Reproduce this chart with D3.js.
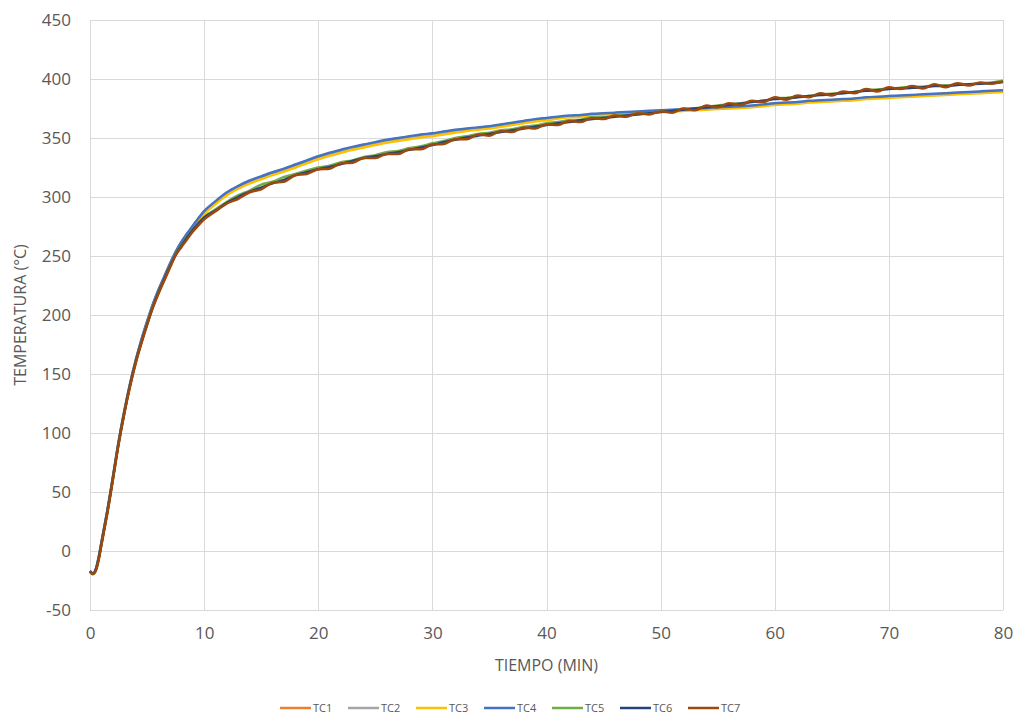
<!DOCTYPE html>
<html>
<head>
<meta charset="utf-8">
<script src="https://cdn.jsdelivr.net/npm/d3@7"></script>
<style>
  html, body { margin: 0; padding: 0; background: #fff; }
  #chart { width: 1016px; height: 717px; }
  .tick text { fill: #595959; font-family: "Open Sans", "Liberation Sans", sans-serif; font-size: 17px; }
  .axis-title { fill: #595959; font-family: "Open Sans", "Liberation Sans", sans-serif; font-size: 16px; }
  .legend text { fill: #595959; font-family: "Open Sans", "Liberation Sans", sans-serif; font-size: 11px; }
</style>
</head>
<body>
<div id="chart"></div>
<script>
// time in minutes (shared by every series)
const minutes = [0, 0.25, 0.5, 0.75, 1, 1.25, 1.5, 2, 2.5, 3, 3.5, 4, 4.5, 5, 5.5, 6, 6.5, 7, 7.5, 8, 8.5, 9, 9.5, 10,
  11, 12, 13, 14, 15, 16, 17, 18, 19, 20, 21, 22, 23, 24, 25, 26, 27, 28, 29, 30,
  31, 32, 33, 34, 35, 36, 37, 38, 39, 40, 41, 42, 43, 44, 45, 46, 47, 48, 49, 50,
  51, 52, 53, 54, 55, 56, 57, 58, 59, 60, 61, 62, 63, 64, 65, 66, 67, 68, 69, 70,
  71, 72, 73, 74, 75, 76, 77, 78, 79, 80];

const seriesNames = ['TC1', 'TC2', 'TC3', 'TC4', 'TC5', 'TC6', 'TC7'];
const seriesColors = ['#ED7D31', '#A5A5A5', '#FFC000', '#4472C4', '#70AD47', '#264478', '#9E480E'];

const tc1 = [-17.5, -19.5, -16, -6, 7, 20, 33, 62, 92, 118, 141, 161, 178.5, 194, 208.5, 221, 232, 243, 253, 261.5, 268.5, 275, 281.5, 287.5,
  296, 303.5, 309, 313.5, 317, 320.5, 323.5, 327, 330.5, 334, 337, 339.5, 342, 344, 346, 348, 349.5, 351, 352.5, 353.5,
  355, 356.5, 357.5, 358.5, 359.5, 361, 362.5, 364, 365.5, 366.5, 367.5, 368.5, 369, 370, 370.5, 371, 371.5, 372, 372.5, 373,
  373.5, 374, 374.5, 375, 375.5, 376, 376.5, 377, 378, 379, 379.5, 380, 381, 381.5, 382, 382.5, 383, 384, 384.5, 385,
  385.5, 386, 386.5, 387, 387.5, 388, 388.5, 389, 389.5, 390];
const tc2 = [-17.5, -19.5, -16, -6.5, 6.5, 19.5, 32.5, 61.5, 91.5, 117.5, 140.5, 160.5, 178, 193.5, 208, 220.5, 231.5, 242.5, 252.5, 261, 268, 274.5, 281, 287,
  295.5, 303, 308.5, 313, 316.5, 320, 323, 326.5, 330, 333.5, 336.5, 339, 341.5, 343.5, 345.5, 347.5, 349, 350.5, 352, 353,
  354.5, 356, 357, 358, 359, 360.5, 362, 363.5, 365, 366, 367, 368, 368.5, 369.5, 370, 370.5, 371, 371.5, 372, 372.5,
  373, 373.5, 374, 374.5, 375, 375.5, 376, 376.5, 377.5, 378.5, 379, 379.5, 380.5, 381, 381.5, 382, 382.5, 383.5, 384, 384.5,
  385, 385.5, 386, 386.5, 387, 387.5, 388, 388.5, 389, 389.5];
const tc3 = [-17.5, -19.5, -16, -6.5, 6.5, 19.5, 32.5, 61.5, 91.5, 117.5, 140.5, 160.5, 177.5, 193, 207.5, 220, 231, 242, 252, 260.5, 267.5, 273.5, 279.5, 285.5,
  294, 301.5, 307, 311.5, 315, 318.5, 321.5, 325, 328.5, 332, 335, 337.5, 340, 342, 344, 346, 347.5, 349, 350.5, 351.5,
  353, 354.5, 356, 357, 358, 359.5, 361, 362.5, 364, 365, 366.5, 367.5, 368, 369, 369.5, 370, 370.5, 371, 371.5, 372,
  372.5, 373, 373.5, 374, 374.5, 375, 375.5, 376, 377, 378, 378.5, 379, 380, 380.5, 381, 381.5, 382, 383, 383.5, 384,
  384.5, 385, 385.5, 386, 386.5, 387, 387.5, 388, 388.5, 389];
const tc4 = [-17, -19, -15.5, -5.5, 7.5, 20.5, 33.5, 62.5, 92.5, 118.5, 141.5, 161.5, 179, 194.5, 209, 221.5, 232.5, 243.5, 253.5, 262, 269, 275.5, 282, 288,
  296.5, 304, 309.5, 314, 317.5, 321, 324, 327.5, 331, 334.5, 337.5, 340, 342.5, 344.5, 346.5, 348.5, 350, 351.5, 353, 354,
  355.5, 357, 358, 359, 360, 361.5, 363, 364.5, 366, 367, 368, 369, 369.5, 370.5, 371, 371.5, 372, 372.5, 373, 373.5,
  374, 374.5, 375, 375.5, 376, 376.5, 377, 377.5, 378.5, 379.5, 380, 380.5, 381.5, 382, 382.5, 383, 383.5, 384.5, 385, 385.5,
  386, 386.5, 387, 387.5, 388, 388.5, 389, 389.5, 390, 390.5];
const tc5 = [-17.5, -19.5, -16.5, -7, 6, 19, 32, 61, 91, 117, 140, 160, 177, 192.5, 207, 219.5, 230.5, 241.5, 251.5, 259, 266, 272.5, 278, 283,
  289.5, 296, 301.5, 305.5, 310.5, 313, 317, 319.5, 322.5, 325, 326.5, 329.5, 331, 334, 335.5, 338, 339, 341.5, 343, 345.5,
  347.5, 350, 351.5, 353.5, 354.5, 356.5, 357.5, 359.5, 360.5, 362.5, 363.5, 365, 365.5, 367.5, 367.5, 369, 369.5, 371, 371, 372.5,
  373, 374.5, 375, 376.5, 377.5, 378.5, 379.5, 381, 381.5, 383.5, 384, 385, 385.5, 387, 387.5, 388.5, 389, 390.5, 391, 392,
  392.5, 393.5, 393.5, 394.5, 394.5, 395.5, 395.5, 396.5, 397, 398.5];
const tc6 = [-17, -19, -16, -7, 6, 19, 32, 61, 91, 117, 140, 160, 176.5, 192, 206.5, 219, 230, 241, 251, 258.5, 265.5, 272, 277.5, 282.5,
  288.5, 295, 300, 304.5, 308, 311.5, 314.5, 318.5, 321, 323.5, 325.5, 328, 330.5, 333, 334.5, 336.5, 338, 340, 342, 344,
  346.5, 348.5, 350.5, 352, 353.5, 355, 356.5, 358, 359.5, 361, 362.5, 363.5, 365, 366, 367, 368, 369, 370, 371, 372,
  373, 374, 375, 376, 377, 378, 379, 380.5, 381.5, 383, 383.5, 384.5, 385.5, 386.5, 387, 388, 389, 390, 390.5, 391.5,
  392, 392.5, 393, 394, 394, 395, 395.5, 396, 396.5, 397.5];
const tc7 = [-17.5, -19.5, -17, -8, 5, 18, 31, 60, 90, 116, 139, 159, 176, 191.5, 206, 218, 229, 240, 250.5, 257.5, 264, 270.5, 276, 281,
  288, 294.5, 298.5, 304, 306.5, 312, 313, 318.5, 319.5, 323.5, 324, 328.5, 329, 333, 333, 336.5, 336.5, 340.5, 340.5, 344.5,
  345, 349, 349, 353, 352, 356, 355, 359, 358, 361.5, 361, 364.5, 363.5, 367, 366, 369, 368, 371, 370, 372.5,
  371.5, 375, 373.5, 377.5, 376, 379.5, 378, 381.5, 380.5, 384.5, 382.5, 386, 384.5, 388, 386, 389.5, 388, 391.5, 389.5, 393,
  391.5, 394, 392, 395.5, 393, 396.5, 394.5, 397, 396, 398];

const seriesValues = [tc1, tc2, tc3, tc4, tc5, tc6, tc7];

const xTicks = [0, 10, 20, 30, 40, 50, 60, 70, 80];
const yTicks = [-50, 0, 50, 100, 150, 200, 250, 300, 350, 400, 450];

const width = 1016, height = 717;
const margin = { top: 20, right: 13, bottom: 107, left: 90 };
const innerW = width - margin.left - margin.right;
const innerH = height - margin.top - margin.bottom;

const svg = d3.select('#chart').append('svg')
  .attr('width', width)
  .attr('height', height);

const g = svg.append('g').attr('transform', `translate(${margin.left},${margin.top})`);

const x = d3.scaleLinear().domain([0, 80]).range([0, innerW]);
const y = d3.scaleLinear().domain([-50, 450]).range([innerH, 0]);

// gridlines
g.append('g')
  .selectAll('line')
  .data(yTicks)
  .join('line')
  .attr('x1', 0).attr('x2', innerW)
  .attr('y1', d => Math.round(y(d)) + 0.5).attr('y2', d => Math.round(y(d)) + 0.5)
  .attr('stroke', '#D9D9D9').attr('stroke-width', 1);

g.append('g')
  .selectAll('line')
  .data(xTicks)
  .join('line')
  .attr('y1', 0).attr('y2', innerH)
  .attr('x1', d => Math.round(x(d)) + 0.5).attr('x2', d => Math.round(x(d)) + 0.5)
  .attr('stroke', '#D9D9D9').attr('stroke-width', 1);

// axes (labels only, plain hyphen for negatives like the original)
const xAxis = g.append('g')
  .attr('transform', `translate(0,${innerH})`)
  .call(d3.axisBottom(x).tickValues(xTicks).tickFormat(d => String(d)).tickSize(0).tickPadding(17));
xAxis.select('.domain').remove();

const yAxis = g.append('g')
  .call(d3.axisLeft(y).tickValues(yTicks).tickFormat(d => String(d)).tickSize(0).tickPadding(19));
yAxis.select('.domain').remove();

// axis titles
svg.append('text')
  .attr('class', 'axis-title')
  .attr('x', margin.left + innerW / 2)
  .attr('y', 671)
  .attr('text-anchor', 'middle')
  .text('TIEMPO (MIN)');

svg.append('text')
  .attr('class', 'axis-title')
  .attr('transform', `translate(26,${margin.top + innerH / 2}) rotate(-90)`)
  .attr('text-anchor', 'middle')
  .text('TEMPERATURA (°C)');

// lines
const line = d3.line()
  .x((d, i) => x(minutes[i]))
  .y(d => y(d))
  .curve(d3.curveMonotoneX);

g.append('g')
  .selectAll('path')
  .data(seriesValues)
  .join('path')
  .attr('fill', 'none')
  .attr('stroke', (d, i) => seriesColors[i])
  .attr('stroke-width', 2.5)
  .attr('stroke-linejoin', 'round')
  .attr('d', line);

// legend
const legendItemW = 68;
const legendX = width / 2 - (legendItemW * seriesNames.length) / 2 + 10;
const legend = svg.append('g')
  .attr('class', 'legend')
  .attr('transform', `translate(${legendX},708)`);

const item = legend.selectAll('g')
  .data(seriesNames)
  .join('g')
  .attr('transform', (d, i) => `translate(${i * legendItemW},0)`);

item.append('line')
  .attr('x1', 0).attr('x2', 31)
  .attr('y1', 0).attr('y2', 0)
  .attr('stroke', (d, i) => seriesColors[i])
  .attr('stroke-width', 2.5);

item.append('text')
  .attr('x', 33)
  .attr('y', 4)
  .text(d => d);
</script>
</body>
</html>
